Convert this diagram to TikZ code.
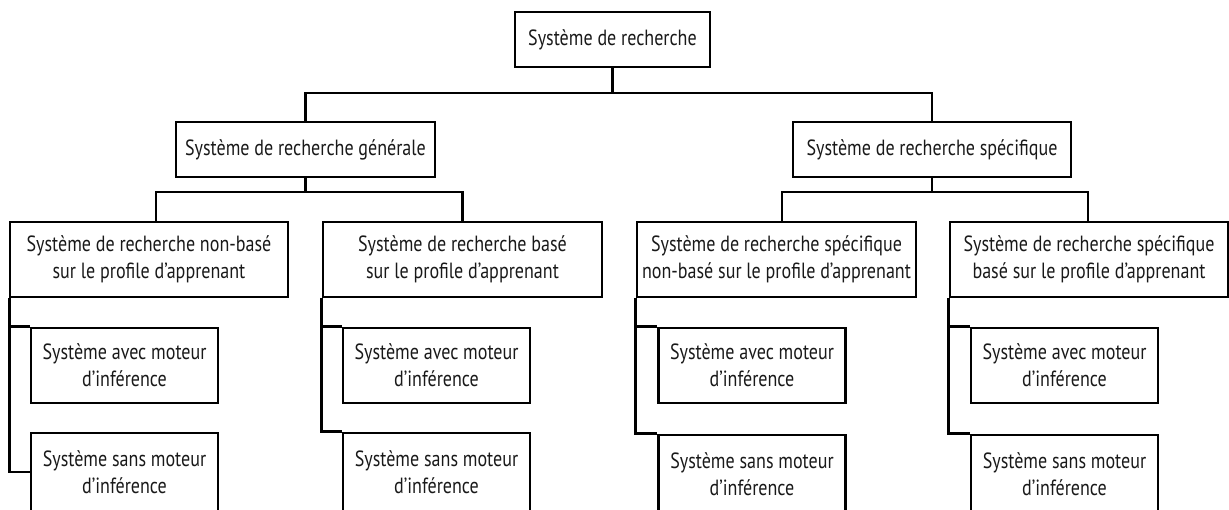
\documentclass[tikz,border=0pt]{standalone}
\usepackage{fontspec}
\setmainfont{PT Sans}[FakeStretch=0.82]
\begin{document}
\begin{tikzpicture}[x=1pt,y=-1pt,
  box/.style={draw, line width=2.7pt, align=center, inner sep=0pt,
    font=\fontsize{22}{27}\selectfont, text=black!90},
  conn/.style={line width=2.7pt},
  b1/.style={box, minimum width=#1, minimum height=55pt},
  b2/.style={box, minimum width=#1, minimum height=75pt},
  leaf/.style={box, minimum width=187pt, minimum height=75pt},
  leafb/.style={box, minimum width=187pt, minimum height=78pt}]
\useasboundingbox (0,0) rectangle (1229,509);
\begin{scope}
\clip (0,0) rectangle (1229,509);
% top levels
\node[b1=195pt] (root) at (612.5,39.5) {Système de recherche};
\node[b1=259pt] (gen) at (305.5,149.5) {Système de recherche générale};
\node[b1=278pt] (spe) at (932,149.5) {Système de recherche spécifique};
% second level
\node[b2=278pt] (nb) at (149,259.5) {Système de recherche non-basé\\sur le profile d’apprenant};
\node[b2=279pt] (ba) at (462.5,259.5) {Système de recherche basé\\sur le profile d’apprenant};
\node[b2=279pt] (snb) at (776.5,259.5) {Système de recherche spécifique\\non-basé sur le profile d’apprenant};
\node[b2=278pt] (sba) at (1089,259.5) {Système de recherche spécifique\\basé sur le profile d’apprenant};
% leaves
\node[leaf]  (nb1) at (124.5,365.5) {Système avec moteur\\d’inférence};
\node[leafb] (nb2) at (124.5,472) {Système sans moteur\\d’inférence};
\node[leaf]  (ba1) at (436.5,365.5) {Système avec moteur\\d’inférence};
\node[leafb] (ba2) at (436.5,472) {Système sans moteur\\d’inférence};
\node[leaf]  (snb1) at (752,365.5) {Système avec moteur\\d’inférence};
\node[leafb] (snb2) at (752,474) {Système sans moteur\\d’inférence};
\node[leaf]  (sba1) at (1064.5,365.5) {Système avec moteur\\d’inférence};
\node[leafb] (sba2) at (1064.5,474) {Système sans moteur\\d’inférence};
% bus levels
\coordinate (L0) at (0,93);
\coordinate (L1) at (0,192);
% connectors
\draw[conn] (root.south) -- (root.south |- L0) -| (gen.north);
\draw[conn] (root.south |- L0) -| (spe.north);
\draw[conn] (gen.south) -- (gen.south |- L1) -| ([xshift=7pt]nb.north);
\draw[conn] (gen.south |- L1) -| (ba.north);
\draw[conn] (spe.south) -- (spe.south |- L1) -| ([xshift=5.5pt]snb.north);
\draw[conn] (spe.south |- L1) -| ([xshift=-1pt]sba.north);
\draw[conn] ([xshift=1pt]nb.south west) |- (nb1.north west);
\draw[conn] ([xshift=1pt]nb.south west) |- (nb2.west);
\draw[conn] (ba.south west) |- (ba1.north west);
\draw[conn] (ba.south west) |- (ba2.north west);
\draw[conn] (snb.south west) |- (snb1.north west);
\draw[conn] (snb.south west) |- (snb2.north west);
\draw[conn] (sba.south west) |- (sba1.north west);
\draw[conn] (sba.south west) |- (sba2.north west);
\end{scope}
\end{tikzpicture}
\end{document}
